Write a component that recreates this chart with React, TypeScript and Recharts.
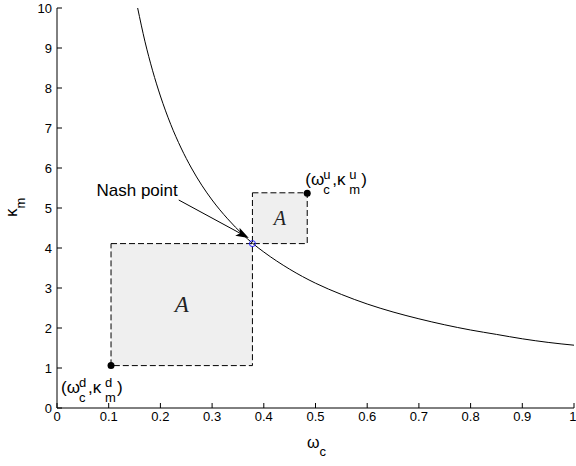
import { ComposedChart, Line, XAxis, YAxis, ReferenceArea, ReferenceDot, ReferenceLine } from "recharts";

// curve
const curveX = [0.156, 0.17, 0.185, 0.2, 0.22, 0.24, 0.26, 0.28, 0.3, 0.33, 0.36, 0.378, 0.4, 0.45, 0.5, 0.55, 0.6, 0.65, 0.7, 0.75, 0.8, 0.85, 0.9, 0.95, 1.0];
const curveY = [10.0, 9.17, 8.43, 7.8, 7.09, 6.5, 6.0, 5.57, 5.2, 4.73, 4.33, 4.12, 3.9, 3.47, 3.12, 2.84, 2.6, 2.4, 2.23, 2.08, 1.95, 1.84, 1.73, 1.64, 1.57];

const xTicks = [0, 0.1, 0.2, 0.3, 0.4, 0.5, 0.6, 0.7, 0.8, 0.9, 1];
const yTicks = [0, 1, 2, 3, 4, 5, 6, 7, 8, 9, 10];

// shaded boxes [x1, x2] / [y1, y2]
const boxLowX = [0.1045, 0.378];
const boxLowY = [1.06, 4.11];
const boxHighX = [0.378, 0.484];
const boxHighY = [4.11, 5.38];

const nashPoint = [0.378, 4.11];
const pointD = [0.1045, 1.06];
const pointU = [0.484, 5.37];
const arrowFrom = [0.2355, 5.2];
const arrowTo = [0.371, 4.25];

const data = curveX.map((x, i) => ({ x, y: curveY[i] }));

const FONT = "'Liberation Sans', Arial, Helvetica, sans-serif";
const SERIF = "'Liberation Serif', 'Times New Roman', serif";

function PointLabel({ x, y, s }: { x: number; y: number; s: string }) {
  const big = { fontFamily: FONT, fontSize: 17, fill: "#000" };
  const small = { fontFamily: FONT, fontSize: 13, fill: "#000" };
  return (
    <g>
      <text x={x} y={y} {...big}>(ω</text>
      <text x={x + 18} y={y - 6} {...small}>{s}</text>
      <text x={x + 18} y={y + 9} {...small}>c</text>
      <text x={x + 27} y={y} {...big}>,κ</text>
      <text x={x + 44} y={y - 6} {...small}>{s}</text>
      <text x={x + 44} y={y + 9} {...small}>m</text>
      <text x={x + 56} y={y} {...big}>)</text>
    </g>
  );
}

const letterA = (size: number) => (p: any) => (
  <text x={p.cx} y={p.cy} textAnchor="middle" dominantBaseline="central" fontFamily={SERIF} fontStyle="italic" fontSize={size} fill="#222">
    A
  </text>
);

const arrowShape = (p: any) => {
  const { x1, y1, x2, y2 } = p;
  const dx = x2 - x1, dy = y2 - y1;
  const len = Math.hypot(dx, dy);
  const ux = dx / len, uy = dy / len;
  const L = 13, hw = 4.5, notch = 3;
  const bx = x2 - ux * L, by = y2 - uy * L;
  const nx = x2 - ux * (L - notch), ny = y2 - uy * (L - notch);
  const pts = [
    [x2, y2],
    [bx - uy * hw, by + ux * hw],
    [nx, ny],
    [bx + uy * hw, by - ux * hw],
  ].map((q) => q.join(",")).join(" ");
  return (
    <g>
      <line x1={x1} y1={y1} x2={nx} y2={ny} stroke="#000" strokeWidth={1} />
      <polygon points={pts} fill="#000" />
      <text x={x1 - 1} y={y1 - 4} textAnchor="end" fontFamily={FONT} fontSize={17} fill="#000">
        Nash point
      </text>
    </g>
  );
};

const tickStyle = { fontFamily: FONT, fontSize: 13, fill: "#000" };

export default function App() {
  return (
    <div style={{ position: "absolute", left: 0, top: 0, background: "#fff" }}>
      <ComposedChart width={576} height={466} data={data} margin={{ top: 8, right: 2, left: 0, bottom: 0 }}>
        <XAxis
          dataKey="x"
          type="number"
          domain={[0, 1]}
          ticks={xTicks}
          height={58}
          tickSize={-5}
          tickMargin={9}
          tick={tickStyle}
          stroke="#000"
          allowDataOverflow
          label={{
            content: () => (
              <text x={307} y={448} fontFamily={FONT} fontSize={16} fill="#000">
                ω<tspan dy={8} fontSize={13}>c</tspan>
              </text>
            ),
          }}
        />
        <XAxis xAxisId="top" orientation="top" type="number" domain={[0, 1]} ticks={xTicks} height={0} tickSize={-5} tick={false} stroke="#000" />
        <YAxis
          type="number"
          domain={[0, 10]}
          ticks={yTicks}
          width={57}
          tickSize={-5}
          tickMargin={10}
          tick={tickStyle}
          stroke="#000"
          allowDataOverflow
          label={{
            content: () => (
              <text x={0} y={0} transform="translate(17,217) rotate(-90)" fontFamily={FONT} fontSize={17} fill="#000">
                κ<tspan dy={8} fontSize={13}>m</tspan>
              </text>
            ),
          }}
        />
        <YAxis yAxisId="right" orientation="right" type="number" domain={[0, 10]} ticks={yTicks} width={0} tickSize={-5} tick={false} stroke="#000" />

        <ReferenceArea x1={boxLowX[0]} x2={boxLowX[1]} y1={boxLowY[0]} y2={boxLowY[1]} fill="#efefef" fillOpacity={1} stroke="#000" strokeDasharray="6 3" />
        <ReferenceArea x1={boxHighX[0]} x2={boxHighX[1]} y1={boxHighY[0]} y2={boxHighY[1]} fill="#efefef" fillOpacity={1} stroke="#000" strokeDasharray="6 3" />
        <ReferenceDot x={(boxLowX[0] + boxLowX[1]) / 2} y={(boxLowY[0] + boxLowY[1]) / 2} r={0} shape={letterA(23)} />
        <ReferenceDot x={(boxHighX[0] + boxHighX[1]) / 2} y={(boxHighY[0] + boxHighY[1]) / 2} r={0} shape={letterA(20)} />

        <Line dataKey="y" type="monotone" stroke="#000" strokeWidth={1} dot={false} isAnimationActive={false} />

        <ReferenceDot x={nashPoint[0]} y={nashPoint[1]} r={3} fill="none" stroke="#2222ff" strokeWidth={1} />
        <ReferenceLine segment={[{ x: arrowFrom[0], y: arrowFrom[1] }, { x: arrowTo[0], y: arrowTo[1] }]} shape={arrowShape} />

        <ReferenceDot
          x={pointD[0]}
          y={pointD[1]}
          r={3.5}
          shape={(p: any) => (
            <g>
              <circle cx={p.cx} cy={p.cy} r={3.5} fill="#000" />
              <PointLabel x={p.cx - 50} y={p.cy + 27} s="d" />
            </g>
          )}
        />
        <ReferenceDot
          x={pointU[0]}
          y={pointU[1]}
          r={3.5}
          shape={(p: any) => (
            <g>
              <circle cx={p.cx} cy={p.cy} r={3.5} fill="#000" />
              <PointLabel x={p.cx - 2} y={p.cy - 8} s="u" />
            </g>
          )}
        />
      </ComposedChart>
    </div>
  );
}
